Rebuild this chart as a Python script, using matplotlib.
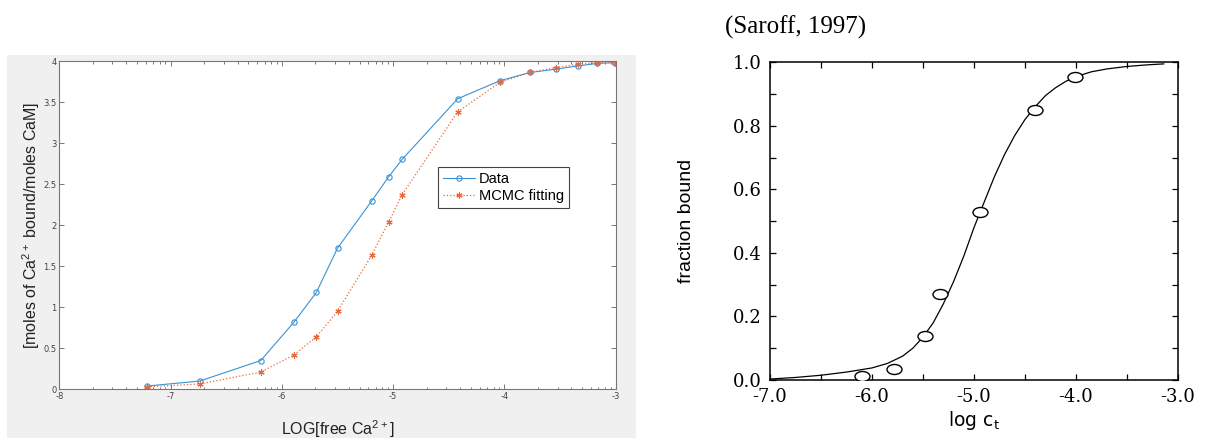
import numpy as np
import matplotlib
matplotlib.use('Agg')
import matplotlib.pyplot as plt
from matplotlib.patches import Rectangle
from matplotlib.path import Path
from matplotlib.transforms import Affine2D
from matplotlib.ticker import FixedLocator, MultipleLocator, FormatStrFormatter

plt.rcParams['axes.unicode_minus'] = False

# left panel: MCMC fit of CaM binding
log_ca = [-7.21, -6.74, -6.19, -5.89, -5.69, -5.50, -5.19, -5.04, -4.92,
          -4.42, -4.04, -3.77, -3.54, -3.34, -3.17, -3.01]
data_bound = [0.04, 0.10, 0.35, 0.82, 1.18, 1.72, 2.30, 2.59, 2.80,
              3.54, 3.76, 3.86, 3.90, 3.94, 3.97, 3.98]
mcmc_bound = [0.03, 0.065, 0.21, 0.42, 0.64, 0.95, 1.64, 2.04, 2.37,
              3.38, 3.74, 3.86, 3.92, 3.96, 3.98, 3.98]

# right panel: Saroff 1997
saroff_x = [-6.10, -5.78, -5.48, -5.33, -4.94, -4.40, -4.01]
saroff_y = [0.013, 0.034, 0.14, 0.27, 0.53, 0.85, 0.953]
curve_x = [-7.0, -6.75, -6.5, -6.25, -6.0, -5.85, -5.7, -5.6, -5.5, -5.4,
           -5.3, -5.2, -5.1, -5.0, -4.9, -4.8, -4.7, -4.6, -4.5, -4.4,
           -4.3, -4.2, -4.1, -4.0, -3.85, -3.7, -3.5, -3.3, -3.14]
curve_y = [0.003, 0.008, 0.015, 0.025, 0.038, 0.052, 0.075, 0.10, 0.135,
           0.18, 0.24, 0.31, 0.39, 0.48, 0.56, 0.64, 0.71, 0.77, 0.82,
           0.86, 0.895, 0.92, 0.94, 0.955, 0.97, 0.979, 0.987, 0.992, 0.995]

W, H = 1208, 438
fig = plt.figure(figsize=(W / 100, H / 100), dpi=100)
fig.patch.set_facecolor('white')

# matlab style grey window behind the left plot
fig.patches.append(Rectangle((7 / W, 0), (636 - 7) / W, (438 - 55) / H,
                             transform=fig.transFigure, facecolor='#f0f0f0',
                             edgecolor='none', zorder=-10))

# ---------------- left panel ----------------
ax1 = fig.add_axes([59.3 / W, (H - 389.3) / H, 556.4 / W, 328.3 / H])
ax1.set_facecolor('white')
blue = '#3a92d4'
orange = '#e8683c'
ax1.plot(log_ca, data_bound, '-o', color=blue, lw=0.8, ms=3.8,
         mfc='none', mew=0.8, label='Data')
# matlab '*' is an asterisk, not a filled star
ax1.plot(log_ca, mcmc_bound, ':', marker=(6, 2, 0), color=orange, lw=0.9,
         ms=4.5, mew=0.8, label='MCMC fitting')
ax1.set_xlim(-8, -3)
ax1.set_ylim(0, 4)
ax1.xaxis.set_major_locator(FixedLocator(np.arange(-8, -2)))
minor = [n + np.log10(k) for n in range(-8, -3) for k in range(2, 10)]
ax1.xaxis.set_minor_locator(FixedLocator(minor))
ax1.yaxis.set_major_locator(MultipleLocator(0.5))
ax1.yaxis.set_major_formatter(FormatStrFormatter('%g'))
ax1.xaxis.set_major_formatter(FormatStrFormatter('%d'))
ax1.tick_params(which='both', direction='in', top=True, right=True,
                color='#777777', labelcolor='#444444', labelsize=6, width=0.7)
ax1.tick_params(which='major', length=3.6, pad=2)
ax1.tick_params(which='minor', length=1.8)
for s in ax1.spines.values():
    s.set_color('#777777')
    s.set_linewidth(0.8)
ax1.set_ylabel('[moles of Ca$^{\\mathregular{2+}}$ bound/moles CaM]',
               fontsize=11.5, family='Liberation Sans', color='#222222')
ax1.yaxis.set_label_coords(-0.031, 0.5)
ax1.set_xlabel('LOG[free Ca$^{\\mathregular{2+}}$]', fontsize=11.5,
               family='Liberation Sans', color='#222222')
ax1.xaxis.set_label_coords(0.5, -0.087)
leg = ax1.legend(loc='upper left', bbox_to_anchor=(0.681, 0.676),
                 borderaxespad=0, fancybox=False, framealpha=1,
                 edgecolor='#444444', handlelength=2.2, handletextpad=0.3,
                 borderpad=0.3, labelspacing=0.25,
                 prop={'family': 'Liberation Sans', 'size': 10.5})
leg.get_frame().set_linewidth(0.8)

# ---------------- right panel ----------------
ax2 = fig.add_axes([770 / W, (H - 380) / H, 408 / W, 317.7 / H])
ax2.plot(curve_x, curve_y, color='black', lw=0.9)
oval = Path.unit_circle().transformed(Affine2D().scale(1.5, 1.0))
ax2.plot(saroff_x, saroff_y, linestyle='none', marker=oval, ms=10.8,
         mfc='white', mec='black', mew=1.0, zorder=3)
ax2.set_xlim(-7, -3)
ax2.set_ylim(0, 1)
ax2.xaxis.set_major_locator(MultipleLocator(1.0))
ax2.xaxis.set_minor_locator(MultipleLocator(0.5))
ax2.yaxis.set_major_locator(MultipleLocator(0.2))
ax2.yaxis.set_minor_locator(MultipleLocator(0.1))
ax2.xaxis.set_major_formatter(FormatStrFormatter('%.1f'))
ax2.yaxis.set_major_formatter(FormatStrFormatter('%.1f'))
ax2.tick_params(which='both', direction='in', top=True, right=True,
                length=4.3, width=0.9, labelsize=13)
ax2.tick_params(axis='y', pad=6)
ax2.tick_params(axis='x', pad=6)
for lab in ax2.get_xticklabels() + ax2.get_yticklabels():
    lab.set_family('DejaVu Serif')
for s in ax2.spines.values():
    s.set_linewidth(1.1)
ax2.set_xlabel('log c$_\\mathregular{t}$', fontsize=13.5, family='DejaVu Sans')
ax2.xaxis.set_label_coords(0.5, -0.09)
ax2.set_ylabel('fraction bound', fontsize=14, family='Liberation Sans')
ax2.yaxis.set_label_coords(-0.185, 0.5)

fig.text(725 / W, 1 - 27 / H, '(Saroff, 1997)', fontsize=18,
         family='Liberation Serif', ha='left', va='center')

fig.savefig('out.png', dpi=100)
